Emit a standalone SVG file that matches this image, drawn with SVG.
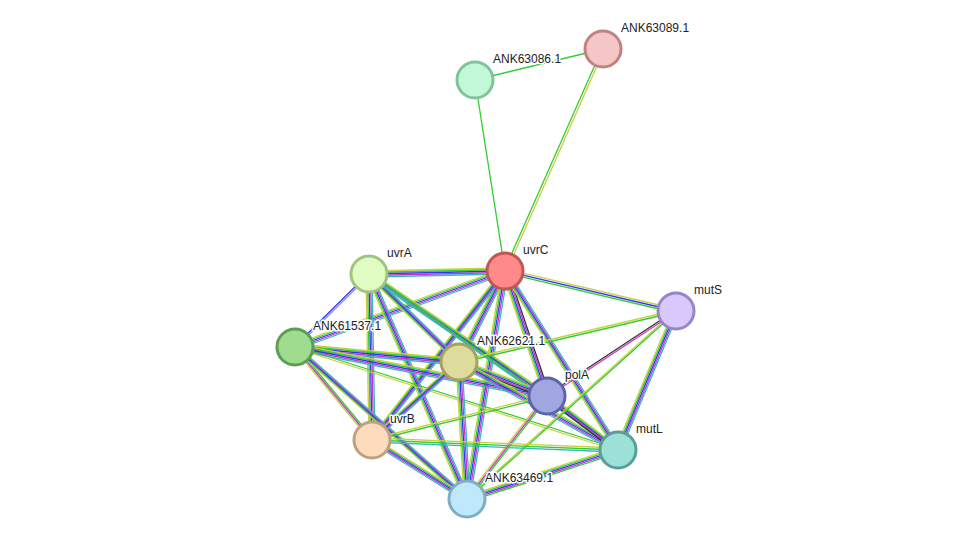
<svg xmlns="http://www.w3.org/2000/svg" width="975" height="545" viewBox="0 0 975 545">
<style>
line{stroke-width:1.3;fill:none}
.y{stroke:#c8d040}.g{stroke:#33cc33}.b{stroke:#3333ff}.m{stroke:#cc33cc}.t{stroke:#33bbbb}.k{stroke:#333333}.p{stroke:#8888ff}
.n{stroke-width:3}
text{font-family:"Liberation Sans",Arial,sans-serif;font-size:12px;fill:#222;stroke:#fff;stroke-width:3;paint-order:stroke;stroke-linejoin:round}
</style>
<rect width="975" height="545" fill="#fff"/>
<g id="connectors">
<line class="g" x1="475" y1="80" x2="603" y2="49"/>
<line class="g" x1="475" y1="80" x2="505" y2="271"/>
<line class="y" x1="604.5" y1="49" x2="506.5" y2="271"/><line class="g" x1="602" y1="49" x2="504" y2="271"/>
<g transform="translate(0,0)">
<!-- C-D -->
<line class="y" x1="369" y1="271" x2="505" y2="268"/><line class="g" x1="369" y1="272.5" x2="505" y2="269.5"/><line class="b" x1="369" y1="274" x2="505" y2="271"/><line class="m" x1="369" y1="275.5" x2="505" y2="272.5"/><line class="t" x1="369" y1="277" x2="505" y2="274"/>
<!-- C-S -->
<line class="y" x1="505" y1="269" x2="676" y2="309"/><line class="b" x1="505" y1="271" x2="676" y2="311"/><line class="g" x1="505" y1="273" x2="676" y2="313"/>
<!-- C-E -->
<line class="y" x1="295" y1="344" x2="505" y2="268"/><line class="g" x1="295" y1="345.5" x2="505" y2="269.5"/><line class="b" x1="295" y1="347" x2="505" y2="271"/><line class="m" x1="295" y1="348.5" x2="505" y2="272.5"/><line class="t" x1="295" y1="350" x2="505" y2="274"/>
<!-- C-F -->
<line class="y" x1="456" y1="362" x2="502" y2="271"/><line class="g" x1="457.5" y1="362" x2="503.5" y2="271"/><line class="b" x1="459" y1="362" x2="505" y2="271"/><line class="m" x1="460.5" y1="362" x2="506.5" y2="271"/><line class="t" x1="462" y1="362" x2="508" y2="271"/>
<!-- C-P -->
<line class="y" x1="502" y1="271" x2="544" y2="396"/><line class="g" x1="503.5" y1="271" x2="545.5" y2="396"/><line class="b" x1="505" y1="271" x2="547" y2="396"/><line class="m" x1="506.5" y1="271" x2="548.5" y2="396"/><line class="k" x1="508" y1="271" x2="550" y2="396"/>
<!-- C-U -->
<line class="y" x1="502" y1="271" x2="369" y2="440"/><line class="g" x1="503.5" y1="271" x2="370.5" y2="440"/><line class="b" x1="505" y1="271" x2="372" y2="440"/><line class="m" x1="506.5" y1="271" x2="373.5" y2="440"/><line class="t" x1="508" y1="271" x2="375" y2="440"/>
<!-- C-L -->
<line class="y" x1="502" y1="271" x2="615" y2="450"/><line class="g" x1="503.5" y1="271" x2="616.5" y2="450"/><line class="b" x1="505" y1="271" x2="618" y2="450"/><line class="m" x1="506.5" y1="271" x2="619.5" y2="450"/><line class="t" x1="508" y1="271" x2="621" y2="450"/>
<!-- C-H -->
<line class="y" x1="502" y1="271" x2="464" y2="499"/><line class="g" x1="503.5" y1="271" x2="465.5" y2="499"/><line class="b" x1="505" y1="271" x2="467" y2="499"/><line class="m" x1="506.5" y1="271" x2="468.5" y2="499"/><line class="t" x1="508" y1="271" x2="470" y2="499"/>
<!-- D-E -->
<line class="b" x1="368" y1="274" x2="294" y2="347"/><line class="p" x1="370.5" y1="274" x2="296.5" y2="347"/>
<!-- D-F -->
<line class="y" x1="366" y1="274" x2="456" y2="362"/><line class="g" x1="367.5" y1="274" x2="457.5" y2="362"/><line class="b" x1="369" y1="274" x2="459" y2="362"/><line class="m" x1="370.5" y1="274" x2="460.5" y2="362"/><line class="t" x1="372" y1="274" x2="462" y2="362"/>
<!-- D-P -->
<line class="y" x1="369" y1="271" x2="547" y2="393"/><line class="g" x1="369" y1="272.5" x2="547" y2="394.5"/><line class="b" x1="369" y1="274" x2="547" y2="396"/><line class="m" x1="369" y1="275.5" x2="547" y2="397.5"/><line class="t" x1="369" y1="277" x2="547" y2="399"/>
<!-- D-U -->
<line class="y" x1="366" y1="274" x2="369" y2="440"/><line class="g" x1="367.5" y1="274" x2="370.5" y2="440"/><line class="b" x1="369" y1="274" x2="372" y2="440"/><line class="m" x1="370.5" y1="274" x2="373.5" y2="440"/><line class="t" x1="372" y1="274" x2="375" y2="440"/>
<!-- D-L -->
<line class="g" x1="369" y1="273" x2="618" y2="449"/><line class="t" x1="369" y1="275" x2="618" y2="451"/>
<!-- D-H -->
<line class="y" x1="366" y1="274" x2="464" y2="499"/><line class="g" x1="367.5" y1="274" x2="465.5" y2="499"/><line class="b" x1="369" y1="274" x2="467" y2="499"/><line class="m" x1="370.5" y1="274" x2="468.5" y2="499"/><line class="t" x1="372" y1="274" x2="470" y2="499"/>
<!-- E-F -->
<line class="y" x1="295" y1="344" x2="459" y2="359"/><line class="g" x1="295" y1="345.5" x2="459" y2="360.5"/><line class="b" x1="295" y1="347" x2="459" y2="362"/><line class="m" x1="295" y1="348.5" x2="459" y2="363.5"/><line class="t" x1="295" y1="350" x2="459" y2="365"/>
<!-- E-P -->
<line class="y" x1="295" y1="344" x2="547" y2="393"/><line class="g" x1="295" y1="345.5" x2="547" y2="394.5"/><line class="b" x1="295" y1="347" x2="547" y2="396"/><line class="m" x1="295" y1="348.5" x2="547" y2="397.5"/><line class="t" x1="295" y1="350" x2="547" y2="399"/>
<!-- E-U -->
<line class="y" x1="293" y1="347" x2="370" y2="440"/><line class="m" x1="295" y1="347" x2="372" y2="440"/><line class="g" x1="297" y1="347" x2="374" y2="440"/>
<!-- E-L -->
<line class="g" x1="295" y1="346" x2="618" y2="449"/><line class="y" x1="295" y1="348" x2="618" y2="451"/>
<!-- E-H -->
<line class="y" x1="292" y1="347" x2="464" y2="499"/><line class="g" x1="293.5" y1="347" x2="465.5" y2="499"/><line class="b" x1="295" y1="347" x2="467" y2="499"/><line class="m" x1="296.5" y1="347" x2="468.5" y2="499"/><line class="t" x1="298" y1="347" x2="470" y2="499"/>
<!-- F-P -->
<line class="y" x1="459" y1="359" x2="547" y2="393"/><line class="g" x1="459" y1="360.5" x2="547" y2="394.5"/><line class="b" x1="459" y1="362" x2="547" y2="396"/><line class="m" x1="459" y1="363.5" x2="547" y2="397.5"/><line class="k" x1="459" y1="365" x2="547" y2="399"/>
<!-- F-U -->
<line class="y" x1="456" y1="362" x2="369" y2="440"/><line class="g" x1="457.5" y1="362" x2="370.5" y2="440"/><line class="b" x1="459" y1="362" x2="372" y2="440"/><line class="m" x1="460.5" y1="362" x2="373.5" y2="440"/><line class="t" x1="462" y1="362" x2="375" y2="440"/>
<!-- F-H -->
<line class="y" x1="456" y1="362" x2="464" y2="499"/><line class="g" x1="457.5" y1="362" x2="465.5" y2="499"/><line class="b" x1="459" y1="362" x2="467" y2="499"/><line class="m" x1="460.5" y1="362" x2="468.5" y2="499"/><line class="t" x1="462" y1="362" x2="470" y2="499"/>
<!-- F-S -->
<line class="y" x1="459" y1="361" x2="676" y2="310"/><line class="g" x1="459" y1="363" x2="676" y2="312"/>
<!-- F-L -->
<line class="y" x1="459" y1="359" x2="618" y2="447"/><line class="g" x1="459" y1="360.5" x2="618" y2="448.5"/><line class="b" x1="459" y1="362" x2="618" y2="450"/><line class="m" x1="459" y1="363.5" x2="618" y2="451.5"/><line class="t" x1="459" y1="365" x2="618" y2="453"/>
<!-- P-S -->
<line class="k" x1="547" y1="395" x2="676" y2="310"/><line class="m" x1="547" y1="397" x2="676" y2="312"/>
<!-- P-L -->
<line class="y" x1="547" y1="393" x2="618" y2="447"/><line class="g" x1="547" y1="394.5" x2="618" y2="448.5"/><line class="b" x1="547" y1="396" x2="618" y2="450"/><line class="m" x1="547" y1="397.5" x2="618" y2="451.5"/><line class="k" x1="547" y1="399" x2="618" y2="453"/>
<!-- P-U -->
<line class="y" x1="547" y1="395" x2="372" y2="439"/><line class="g" x1="547" y1="397" x2="372" y2="441"/>
<!-- P-H -->
<line class="y" x1="545" y1="396" x2="465" y2="499"/><line class="m" x1="547" y1="396" x2="467" y2="499"/><line class="g" x1="549" y1="396" x2="469" y2="499"/>
<!-- S-L -->
<line class="y" x1="673" y1="311" x2="615" y2="450"/><line class="g" x1="674.5" y1="311" x2="616.5" y2="450"/><line class="b" x1="676" y1="311" x2="618" y2="450"/><line class="m" x1="677.5" y1="311" x2="619.5" y2="450"/><line class="t" x1="679" y1="311" x2="621" y2="450"/>
<!-- S-H -->
<line class="y" x1="675" y1="311" x2="466" y2="499"/><line class="g" x1="677" y1="311" x2="468" y2="499"/>
<!-- U-L -->
<line class="y" x1="372" y1="438" x2="618" y2="448"/><line class="g" x1="372" y1="440" x2="618" y2="450"/><line class="t" x1="372" y1="442" x2="618" y2="452"/>
<!-- U-H -->
<line class="y" x1="372" y1="437" x2="467" y2="496"/><line class="g" x1="372" y1="438.5" x2="467" y2="497.5"/><line class="b" x1="372" y1="440" x2="467" y2="499"/><line class="m" x1="372" y1="441.5" x2="467" y2="500.5"/><line class="t" x1="372" y1="443" x2="467" y2="502"/>
<!-- L-H -->
<line class="y" x1="467" y1="496" x2="618" y2="447"/><line class="g" x1="467" y1="497.5" x2="618" y2="448.5"/><line class="b" x1="467" y1="499" x2="618" y2="450"/><line class="m" x1="467" y1="500.5" x2="618" y2="451.5"/><line class="g" x1="467" y1="502" x2="618" y2="453"/>
</g>
</g>
<g id="ANK63089.1"><circle class="n" cx="603" cy="49" r="18" fill="#f6c6c6" stroke="#c08282"/><text x="621" y="32">ANK63089.1</text></g>
<g id="ANK63086.1"><circle class="n" cx="475" cy="80" r="18" fill="#c2f8d8" stroke="#80c49c"/><text x="493" y="63">ANK63086.1</text></g>
<g id="uvrC"><circle class="n" cx="505" cy="271" r="18" fill="#ff8a8a" stroke="#c05656"/><text x="523" y="254">uvrC</text></g>
<g id="uvrA"><circle class="n" cx="369" cy="274" r="18" fill="#e0fcc2" stroke="#a0c482"/><text x="387" y="257">uvrA</text></g>
<g id="mutS"><circle class="n" cx="676" cy="311" r="18" fill="#d8c8fc" stroke="#9a84c8"/><text x="694" y="294">mutS</text></g>
<g id="ANK61537.1"><circle class="n" cx="295" cy="347" r="18" fill="#a0dc90" stroke="#5e9e50"/><text x="313" y="330">ANK61537.1</text></g>
<g id="ANK62621.1"><circle class="n" cx="459" cy="362" r="18" fill="#dedc9c" stroke="#a4a25e"/><text x="477" y="345">ANK62621.1</text></g>
<g id="polA"><circle class="n" cx="547" cy="396" r="18" fill="#a0a6e0" stroke="#5e64ac"/><text x="565" y="379">polA</text></g>
<g id="uvrB"><circle class="n" cx="372" cy="440" r="18" fill="#fcdcbc" stroke="#c0a080"/><text x="390" y="423">uvrB</text></g>
<g id="mutL"><circle class="n" cx="618" cy="450" r="18" fill="#9ce0d8" stroke="#58a096"/><text x="636" y="433">mutL</text></g>
<g id="ANK63469.1"><circle class="n" cx="467" cy="499" r="18" fill="#c0e8fc" stroke="#80aec4"/><text x="485" y="482">ANK63469.1</text></g>
</svg>
